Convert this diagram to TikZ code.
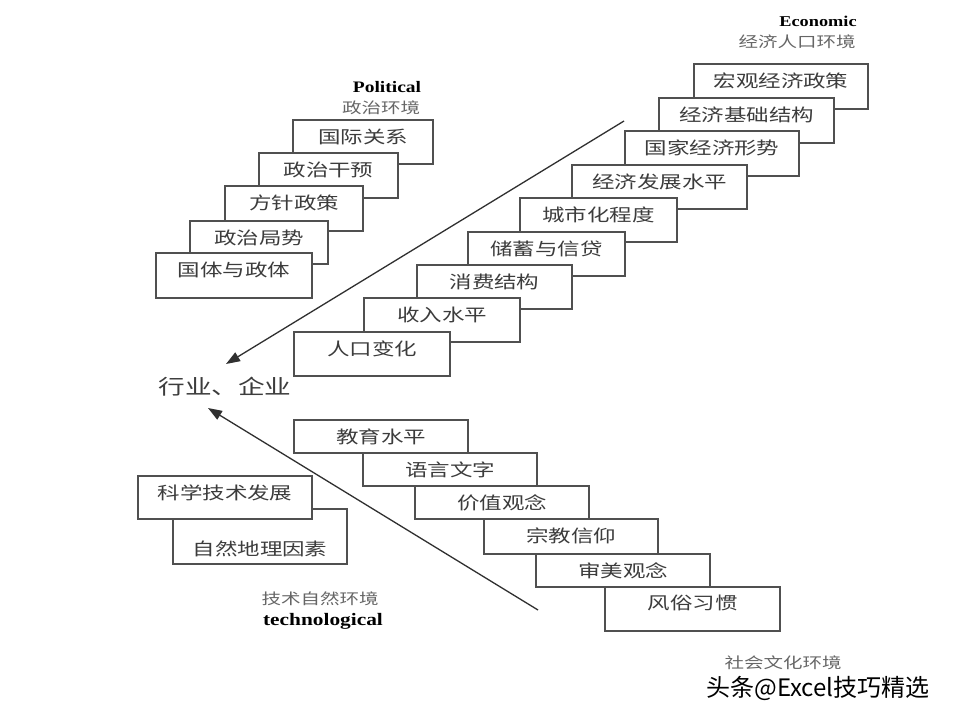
\documentclass[tikz,border=0pt]{standalone}
\usepackage{fontspec}
\setmainfont{Liberation Serif}
\newfontfamily\cjk[FakeStretch=1.3]{Noto Sans CJK SC}
\newfontfamily\cjkplain{Noto Sans CJK SC}
\newfontfamily\en[FakeStretch=1.22]{Liberation Serif}
\usetikzlibrary{arrows.meta}
\definecolor{boxline}{HTML}{505050}
\definecolor{boxtext}{HTML}{3C3C3C}
\definecolor{lbltext}{HTML}{666666}
\definecolor{arrowc}{HTML}{303030}
\begin{document}
\begin{tikzpicture}[x=1pt,y=-1pt,
  box/.style={draw=boxline, line width=1.3pt, fill=white, anchor=north west, inner sep=0pt, outer sep=0pt},
  boxtxt/.style={inner sep=0pt, text=boxtext, font=\cjk\fontsize{17.3}{20}\selectfont},
  cjklbl/.style={inner sep=0pt, text=lbltext, font=\cjk\fontsize{15}{18}\selectfont},
  enlbl/.style={inner sep=0pt, text=black, font=\en\bfseries\fontsize{16}{18}\selectfont},
  arr/.style={draw=arrowc, line width=1.3pt, -{Triangle[length=14pt,width=10pt]}}
]
\fill[white] (0,0) rectangle (960,720);
\useasboundingbox (0,0) rectangle (960,720);

% ---------- Political ----------
\node[box, minimum width=140pt, minimum height=44pt] (p1) at (293,120) {};
\node[boxtxt] (p1t) at ([yshift=-17pt]p1.north) {国际关系};
\node[box, minimum width=139pt, minimum height=45pt] (p2) at (259,153) {};
\node[boxtxt] (p2t) at ([yshift=-17pt]p2.north) {政治干预};
\node[box, minimum width=138pt, minimum height=45pt] (p3) at (225,186) {};
\node[boxtxt] (p3t) at ([yshift=-17pt]p3.north) {方针政策};
\node[box, minimum width=138pt, minimum height=43pt] (p4) at (190,221) {};
\node[boxtxt] (p4t) at ([yshift=-17pt]p4.north) {政治局势};
\node[box, minimum width=156pt, minimum height=45pt] (p5) at (156,253) {};
\node[boxtxt] (p5t) at ([yshift=-17pt]p5.north) {国体与政体};

\node[enlbl] (polen) at (387,87) {Political};
\node[cjklbl] (polcn) at (381,108) {政治环境};

% ---------- Economic ----------
\node[box, minimum width=174pt, minimum height=45pt] (e1) at (694,64) {};
\node[boxtxt] (e1t) at ([yshift=-17pt]e1.north) {宏观经济政策};
\node[box, minimum width=175pt, minimum height=45pt] (e2) at (659,98) {};
\node[boxtxt] (e2t) at ([yshift=-17pt]e2.north) {经济基础结构};
\node[box, minimum width=174pt, minimum height=45pt] (e3) at (625,131) {};
\node[boxtxt] (e3t) at ([yshift=-17pt]e3.north) {国家经济形势};
\node[box, minimum width=175pt, minimum height=44pt] (e4) at (572,165) {};
\node[boxtxt] (e4t) at ([yshift=-17pt]e4.north) {经济发展水平};
\node[box, minimum width=157pt, minimum height=44pt] (e5) at (520,198) {};
\node[boxtxt] (e5t) at ([yshift=-17pt]e5.north) {城市化程度};
\node[box, minimum width=157pt, minimum height=44pt] (e6) at (468,232) {};
\node[boxtxt] (e6t) at ([yshift=-17pt]e6.north) {储蓄与信贷};
\node[box, minimum width=155pt, minimum height=44pt] (e7) at (417,265) {};
\node[boxtxt] (e7t) at ([yshift=-17pt]e7.north) {消费结构};
\node[box, minimum width=156pt, minimum height=44pt] (e8) at (364,298) {};
\node[boxtxt] (e8t) at ([yshift=-17pt]e8.north) {收入水平};
\node[box, minimum width=156pt, minimum height=44pt] (e9) at (294,332) {};
\node[boxtxt] (e9t) at ([yshift=-17pt]e9.north) {人口变化};

\node[enlbl, font=\en\bfseries\fontsize{15}{18}\selectfont] (ecoen) at (818,21) {Economic};
\node[cjklbl] (ecocn) at (797,42) {经济人口环境};

% ---------- Center ----------
\node[inner sep=0pt, text=boxtext, font=\cjk\fontsize{20.5}{24}\selectfont] (firm) at (225,387) {行业、企业};

% ---------- Social ----------
\node[box, minimum width=174pt, minimum height=33pt] (s1) at (294,420) {};
\node[boxtxt] (s1t) at ([yshift=-17pt]s1.north) {教育水平};
\node[box, minimum width=174pt, minimum height=33pt] (s2) at (363,453) {};
\node[boxtxt] (s2t) at ([yshift=-17pt]s2.north) {语言文字};
\node[box, minimum width=174pt, minimum height=33pt] (s3) at (415,486) {};
\node[boxtxt] (s3t) at ([yshift=-17pt]s3.north) {价值观念};
\node[box, minimum width=174pt, minimum height=35pt] (s4) at (484,519) {};
\node[boxtxt] (s4t) at ([yshift=-17pt]s4.north) {宗教信仰};
\node[box, minimum width=174pt, minimum height=33pt] (s5) at (536,554) {};
\node[boxtxt] (s5t) at ([yshift=-17pt]s5.north) {审美观念};
\node[box, minimum width=175pt, minimum height=44pt] (s6) at (605,587) {};
\node[boxtxt] (s6t) at ([yshift=-16pt]s6.north) {风俗习惯};

\node[cjklbl] (soccn) at (783,663) {社会文化环境};

% ---------- Technological ----------
\node[box, minimum width=174pt, minimum height=55pt] (t2) at (173,509) {};
\node[boxtxt] (t2t) at ([yshift=-40pt]t2.north) {自然地理因素};
\node[box, minimum width=174pt, minimum height=43pt] (t1) at (138,476) {};
\node[boxtxt] (t1t) at ([yshift=-17pt]t1.north) {科学技术发展};

\node[cjklbl] (teccn) at (320,599) {技术自然环境};
\node[enlbl, font=\en\bfseries\fontsize{17.5}{20}\selectfont] (tecen) at (323,621) {technological};

% ---------- Arrows ----------
\coordinate (ea) at (624,121);
\coordinate (ta) at (226,364);
\coordinate (sa) at (538,610);
\coordinate (tb) at (208,408);
\draw[arr] (ea) -- (ta);
\draw[arr] (sa) -- (tb);

% ---------- Watermark ----------
\node[inner sep=0pt, text=black, font=\cjkplain\fontsize{24}{28}\selectfont] (wm) at (818,688) {头条@Excel技巧精选};
\end{tikzpicture}
\end{document}
